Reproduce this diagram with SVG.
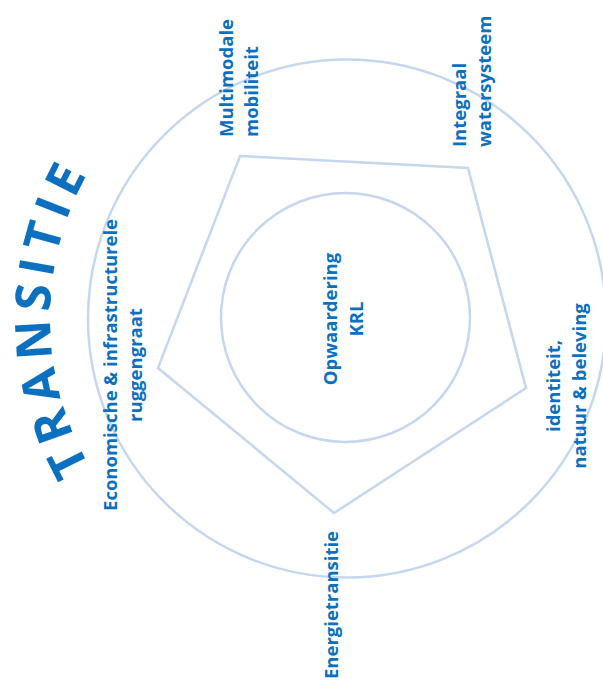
<svg xmlns="http://www.w3.org/2000/svg" width="603" height="682" viewBox="0 0 603 682">
<defs>
<style>
.ring{fill:none;stroke:#c5d7ee;stroke-width:2.5}
.lbl{font-family:"Open Sans","Liberation Sans",sans-serif;font-weight:700;font-size:18.5px;fill:#0b70c0}
.big{font-family:"Open Sans","Liberation Sans",sans-serif;font-weight:700;font-size:49px;fill:#0b70c0;letter-spacing:7px}
</style>
<path id="arc" d="M 198.5 575.2 A 297 297 0 0 1 198.5 60.8"/>
</defs>
<rect width="603" height="682" fill="#ffffff"/>
<g id="connectors">
<circle class="ring" cx="347" cy="318.5" r="259"/>
<polygon class="ring" points="240,156 468,168 526,388 334,513 158,368" stroke-linejoin="miter"/>
</g>
<g id="core">
<circle class="ring" cx="345.5" cy="317.5" r="124.5"/>
<text class="lbl" text-anchor="middle" transform="translate(337,319) rotate(-90)"><tspan x="0">Opwaardering</tspan><tspan x="0" dy="26">KRL</tspan></text>
</g>
<g id="mobiliteit">
<text class="lbl" transform="translate(233,137) rotate(-90)"><tspan x="0">Multimodale</tspan><tspan x="0" dy="25">mobiliteit</tspan></text>
</g>
<g id="water">
<text class="lbl" transform="translate(466,147) rotate(-90)"><tspan x="0">Integraal</tspan><tspan x="0" dy="25">watersysteem</tspan></text>
</g>
<g id="identiteit">
<text class="lbl" text-anchor="middle" transform="translate(560,386) rotate(-90)"><tspan x="0">identiteit,</tspan><tspan x="0" dy="26">natuur &amp; beleving</tspan></text>
</g>
<g id="energie">
<text class="lbl" text-anchor="middle" transform="translate(338,605) rotate(-90)">Energietransitie</text>
</g>
<g id="economie">
<text class="lbl" text-anchor="middle" transform="translate(117,365) rotate(-90)"><tspan x="0">Economische &amp; infrastructurele</tspan><tspan x="0" dy="25">ruggengraat</tspan></text>
</g>
<g id="transitie">
<text class="big"><textPath href="#arc" startOffset="50%" text-anchor="middle">TRANSITIE</textPath></text>
</g>
</svg>
